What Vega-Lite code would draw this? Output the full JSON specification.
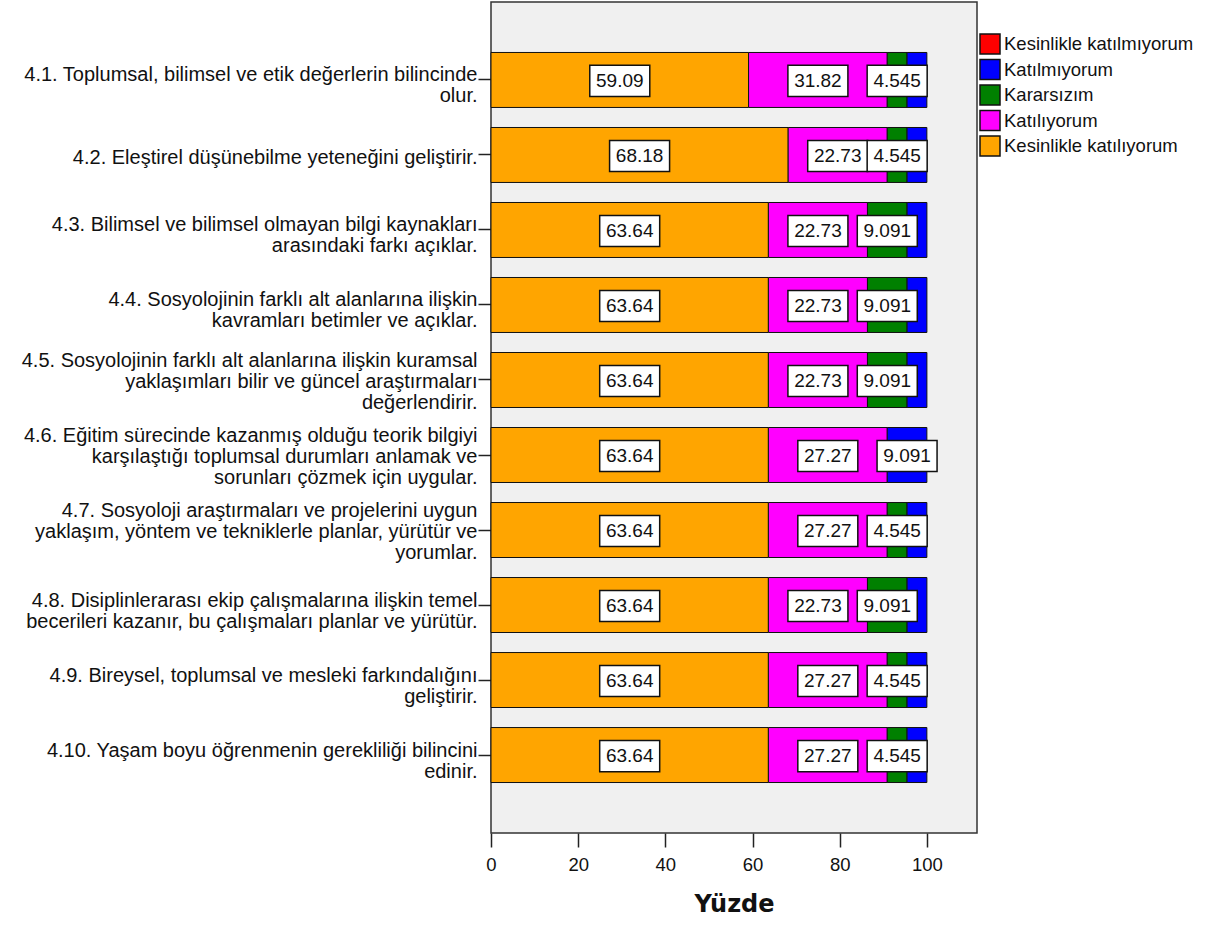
{
  "$schema": "https://vega.github.io/schema/vega-lite/v6.json",
  "width": 486,
  "height": 831,
  "autosize": {"type": "none"},
  "padding": {"left": 491, "top": 2, "right": 241, "bottom": 94},
  "background": "white",
  "config": {
    "view": {"fill": "#f0f0f0", "stroke": "#333333", "strokeWidth": 1.5},
    "font": "Liberation Sans"
  },
  "data": {
    "values": [
      {"item": "4.1. Toplumsal, bilimsel ve etik değerlerin bilincinde\nolur.", "cat": "Kesinlikle katılıyorum", "v": 59.09},
      {"item": "4.1. Toplumsal, bilimsel ve etik değerlerin bilincinde\nolur.", "cat": "Katılıyorum", "v": 31.82},
      {"item": "4.1. Toplumsal, bilimsel ve etik değerlerin bilincinde\nolur.", "cat": "Kararsızım", "v": 4.545},
      {"item": "4.1. Toplumsal, bilimsel ve etik değerlerin bilincinde\nolur.", "cat": "Katılmıyorum", "v": 4.545},
      {"item": "4.2. Eleştirel düşünebilme yeteneğini geliştirir.", "cat": "Kesinlikle katılıyorum", "v": 68.18},
      {"item": "4.2. Eleştirel düşünebilme yeteneğini geliştirir.", "cat": "Katılıyorum", "v": 22.73},
      {"item": "4.2. Eleştirel düşünebilme yeteneğini geliştirir.", "cat": "Kararsızım", "v": 4.545},
      {"item": "4.2. Eleştirel düşünebilme yeteneğini geliştirir.", "cat": "Katılmıyorum", "v": 4.545},
      {"item": "4.3. Bilimsel ve bilimsel olmayan bilgi kaynakları\narasındaki farkı açıklar.", "cat": "Kesinlikle katılıyorum", "v": 63.64},
      {"item": "4.3. Bilimsel ve bilimsel olmayan bilgi kaynakları\narasındaki farkı açıklar.", "cat": "Katılıyorum", "v": 22.73},
      {"item": "4.3. Bilimsel ve bilimsel olmayan bilgi kaynakları\narasındaki farkı açıklar.", "cat": "Kararsızım", "v": 9.091},
      {"item": "4.3. Bilimsel ve bilimsel olmayan bilgi kaynakları\narasındaki farkı açıklar.", "cat": "Katılmıyorum", "v": 4.545},
      {"item": "4.4. Sosyolojinin farklı alt alanlarına ilişkin\nkavramları betimler ve açıklar.", "cat": "Kesinlikle katılıyorum", "v": 63.64},
      {"item": "4.4. Sosyolojinin farklı alt alanlarına ilişkin\nkavramları betimler ve açıklar.", "cat": "Katılıyorum", "v": 22.73},
      {"item": "4.4. Sosyolojinin farklı alt alanlarına ilişkin\nkavramları betimler ve açıklar.", "cat": "Kararsızım", "v": 9.091},
      {"item": "4.4. Sosyolojinin farklı alt alanlarına ilişkin\nkavramları betimler ve açıklar.", "cat": "Katılmıyorum", "v": 4.545},
      {"item": "4.5. Sosyolojinin farklı alt alanlarına ilişkin kuramsal\nyaklaşımları bilir ve güncel araştırmaları\ndeğerlendirir.", "cat": "Kesinlikle katılıyorum", "v": 63.64},
      {"item": "4.5. Sosyolojinin farklı alt alanlarına ilişkin kuramsal\nyaklaşımları bilir ve güncel araştırmaları\ndeğerlendirir.", "cat": "Katılıyorum", "v": 22.73},
      {"item": "4.5. Sosyolojinin farklı alt alanlarına ilişkin kuramsal\nyaklaşımları bilir ve güncel araştırmaları\ndeğerlendirir.", "cat": "Kararsızım", "v": 9.091},
      {"item": "4.5. Sosyolojinin farklı alt alanlarına ilişkin kuramsal\nyaklaşımları bilir ve güncel araştırmaları\ndeğerlendirir.", "cat": "Katılmıyorum", "v": 4.545},
      {"item": "4.6. Eğitim sürecinde kazanmış olduğu teorik bilgiyi\nkarşılaştığı toplumsal durumları anlamak ve\nsorunları çözmek için uygular.", "cat": "Kesinlikle katılıyorum", "v": 63.64},
      {"item": "4.6. Eğitim sürecinde kazanmış olduğu teorik bilgiyi\nkarşılaştığı toplumsal durumları anlamak ve\nsorunları çözmek için uygular.", "cat": "Katılıyorum", "v": 27.27},
      {"item": "4.6. Eğitim sürecinde kazanmış olduğu teorik bilgiyi\nkarşılaştığı toplumsal durumları anlamak ve\nsorunları çözmek için uygular.", "cat": "Katılmıyorum", "v": 9.091},
      {"item": "4.7. Sosyoloji araştırmaları ve projelerini uygun\nyaklaşım, yöntem ve tekniklerle planlar, yürütür ve\nyorumlar.", "cat": "Kesinlikle katılıyorum", "v": 63.64},
      {"item": "4.7. Sosyoloji araştırmaları ve projelerini uygun\nyaklaşım, yöntem ve tekniklerle planlar, yürütür ve\nyorumlar.", "cat": "Katılıyorum", "v": 27.27},
      {"item": "4.7. Sosyoloji araştırmaları ve projelerini uygun\nyaklaşım, yöntem ve tekniklerle planlar, yürütür ve\nyorumlar.", "cat": "Kararsızım", "v": 4.545},
      {"item": "4.7. Sosyoloji araştırmaları ve projelerini uygun\nyaklaşım, yöntem ve tekniklerle planlar, yürütür ve\nyorumlar.", "cat": "Katılmıyorum", "v": 4.545},
      {"item": "4.8. Disiplinlerarası ekip çalışmalarına ilişkin temel\nbecerileri kazanır, bu çalışmaları planlar ve yürütür.", "cat": "Kesinlikle katılıyorum", "v": 63.64},
      {"item": "4.8. Disiplinlerarası ekip çalışmalarına ilişkin temel\nbecerileri kazanır, bu çalışmaları planlar ve yürütür.", "cat": "Katılıyorum", "v": 22.73},
      {"item": "4.8. Disiplinlerarası ekip çalışmalarına ilişkin temel\nbecerileri kazanır, bu çalışmaları planlar ve yürütür.", "cat": "Kararsızım", "v": 9.091},
      {"item": "4.8. Disiplinlerarası ekip çalışmalarına ilişkin temel\nbecerileri kazanır, bu çalışmaları planlar ve yürütür.", "cat": "Katılmıyorum", "v": 4.545},
      {"item": "4.9. Bireysel, toplumsal ve mesleki farkındalığını\ngeliştirir.", "cat": "Kesinlikle katılıyorum", "v": 63.64},
      {"item": "4.9. Bireysel, toplumsal ve mesleki farkındalığını\ngeliştirir.", "cat": "Katılıyorum", "v": 27.27},
      {"item": "4.9. Bireysel, toplumsal ve mesleki farkındalığını\ngeliştirir.", "cat": "Kararsızım", "v": 4.545},
      {"item": "4.9. Bireysel, toplumsal ve mesleki farkındalığını\ngeliştirir.", "cat": "Katılmıyorum", "v": 4.545},
      {"item": "4.10. Yaşam boyu öğrenmenin gerekliliği bilincini\nedinir.", "cat": "Kesinlikle katılıyorum", "v": 63.64},
      {"item": "4.10. Yaşam boyu öğrenmenin gerekliliği bilincini\nedinir.", "cat": "Katılıyorum", "v": 27.27},
      {"item": "4.10. Yaşam boyu öğrenmenin gerekliliği bilincini\nedinir.", "cat": "Kararsızım", "v": 4.545},
      {"item": "4.10. Yaşam boyu öğrenmenin gerekliliği bilincini\nedinir.", "cat": "Katılmıyorum", "v": 4.545}
    ]
  },
  "transform": [
    {"calculate": "indexof(['Kesinlikle katılıyorum','Katılıyorum','Kararsızım','Katılmıyorum','Kesinlikle katılmıyorum'], datum.cat)", "as": "ord"},
    {"stack": "v", "groupby": ["item"], "sort": [{"field": "ord", "order": "ascending"}], "as": ["v0", "v1"]},
    {"calculate": "(datum.v0 + datum.v1) / 2", "as": "mid"}
  ],
  "encoding": {
    "y": {
      "field": "item",
      "type": "nominal",
      "sort": null,
      "scale": {"paddingInner": 0.267, "paddingOuter": 0.673},
      "axis": {
        "title": null,
        "domain": false,
        "labelExpr": "split(datum.label, '\\n')",
        "labelFont": "Liberation Sans",
        "labelFontSize": 20,
        "labelLineHeight": 21,
        "labelColor": "#111111",
        "labelLimit": 0,
        "labelPadding": 1,
        "labelOffset": {
          "condition": [
            {"test": "length(split(datum.value, '\\n')) >= 3", "value": -19},
            {"test": "length(split(datum.value, '\\n')) == 2", "value": -4.5}
          ],
          "value": 3
        },
        "tickSize": 13,
        "tickColor": "#222222",
        "tickWidth": 1.5
      }
    }
  },
  "layer": [
    {
      "mark": {"type": "bar", "stroke": "#111111", "strokeWidth": 1},
      "encoding": {
        "x": {
          "field": "v0",
          "type": "quantitative",
          "scale": {"domain": [0, 111.5], "nice": false, "zero": true},
          "axis": {
            "title": "Yüzde",
            "values": [0, 20, 40, 60, 80, 100],
            "grid": false,
            "domain": false,
            "labelFlush": false,
            "tickSize": 14,
            "tickWidth": 1.5,
            "tickColor": "#222222",
            "labelFont": "Liberation Sans",
            "labelFontSize": 18.5,
            "labelColor": "#111111",
            "labelPadding": 8,
            "titleFont": "DejaVu Sans",
            "titleFontSize": 24,
            "titleFontWeight": "bold",
            "titleColor": "#111111",
            "titlePadding": 19
          }
        },
        "x2": {"field": "v1"},
        "color": {
          "field": "cat",
          "type": "nominal",
          "scale": {
            "domain": ["Kesinlikle katılmıyorum", "Katılmıyorum", "Kararsızım", "Katılıyorum", "Kesinlikle katılıyorum"],
            "range": ["#ff0000", "#0000ff", "#008000", "#ff00ff", "#ffa500"]
          },
          "legend": {
            "title": null,
            "orient": "none",
            "legendX": 488,
            "legendY": 31,
            "symbolType": "square",
            "symbolSize": 400,
            "symbolStrokeColor": "#111111",
            "symbolStrokeWidth": 1.5,
            "symbolOpacity": 1,
            "labelFont": "Liberation Sans",
            "labelFontSize": 18.5,
            "labelColor": "#111111",
            "labelOffset": 3,
            "labelLimit": 0,
            "rowPadding": -0.5
          }
        }
      }
    },
    {
      "transform": [{"filter": "datum.cat != 'Katılmıyorum' || datum.v > 5"}],
      "mark": {"type": "point", "shape": "M-1,-0.52H1V0.52H-1Z", "size": 3600, "filled": true, "fill": "white", "stroke": "#111111", "strokeWidth": 1.5, "opacity": 1, "yOffset": 1},
      "encoding": {
        "x": {"field": "mid", "type": "quantitative"}
      }
    },
    {
      "transform": [{"filter": "datum.cat != 'Katılmıyorum' || datum.v > 5"}],
      "mark": {"type": "text", "font": "Liberation Sans", "fontSize": 19, "color": "#111111", "baseline": "middle", "align": "center", "yOffset": 1},
      "encoding": {
        "x": {"field": "mid", "type": "quantitative"},
        "text": {"field": "v", "type": "quantitative", "format": ".4"}
      }
    }
  ]
}
